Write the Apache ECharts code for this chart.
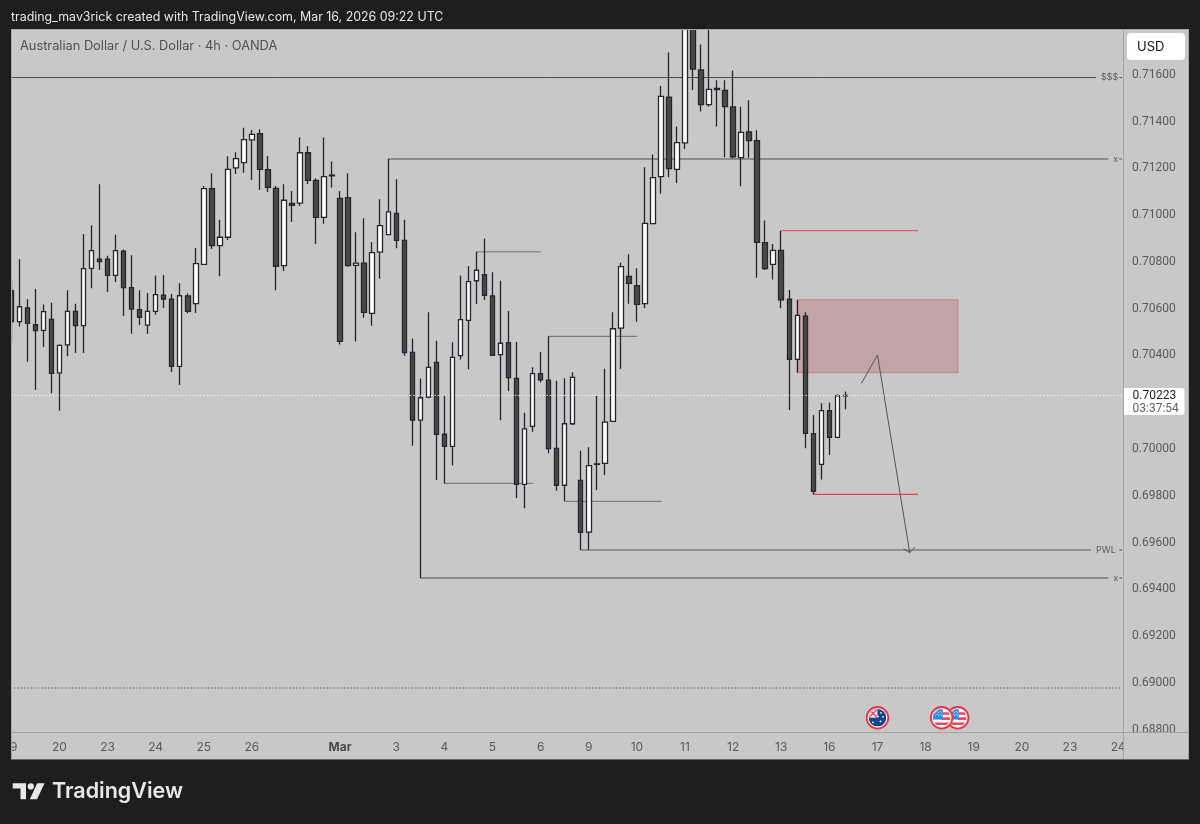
<!DOCTYPE html>
<html>
<head>
<meta charset="utf-8">
<style>
  html, body { margin: 0; padding: 0; background: #1e1e1e; }
  #chart { width: 1200px; height: 824px; }
</style>
<script src="https://cdn.jsdelivr.net/npm/echarts@6/dist/echarts.min.js"></script>
</head>
<body>
<div id="chart"></div>
<script>
// AUD/USD 4h candles, one entry per bar, oldest first
const opens = [
  0.70671,0.70538,0.70597,0.70525,0.70501,0.70548,0.70319,0.70439,0.70582,0.70521,
  0.70766,0.70805,0.70805,0.70736,0.70839,0.70684,0.70590,0.70523,0.70582,0.70651,
  0.70634,0.70347,0.70648,0.70615,0.70783,0.71107,0.70863,0.70899,0.71195,0.71218,
  0.71315,0.71342,0.71188,0.71108,0.70778,0.71044,0.71045,0.71260,0.71142,0.70984,
  0.71164,0.71065,0.71068,0.70779,0.70788,0.70574,0.70835,0.70910,0.71001,0.70886,
  0.70407,0.70117,0.70216,0.70364,0.70057,0.70005,0.70393,0.70544,0.70713,0.70739,
  0.70648,0.70397,0.70449,0.70296,0.69843,0.70091,0.70316,0.70288,0.69997,0.69839,
  0.70102,0.69860,0.69639,0.69930,0.69933,0.70112,0.70511,0.70732,0.70692,0.70615,
  0.70957,0.71158,0.71498,0.71189,0.71302,0.71840,0.71614,0.71466,0.71535,0.71527,
  0.71456,0.71239,0.71349,0.71312,0.70876,0.70783,0.70843,0.70634,0.70377,0.70562,
  0.70060,0.69928,0.70158,0.70044,0.70221
];
const closes = [
  0.70538,0.70602,0.70531,0.70500,0.70581,0.70317,0.70437,0.70582,0.70521,0.70765,
  0.70842,0.70795,0.70736,0.70842,0.70684,0.70592,0.70557,0.70582,0.70654,0.70635,
  0.70347,0.70649,0.70582,0.70786,0.71107,0.70863,0.70899,0.71189,0.71235,0.71316,
  0.71339,0.71189,0.71112,0.70775,0.71057,0.71035,0.71260,0.71142,0.70984,0.71158,
  0.71161,0.70454,0.70778,0.70788,0.70578,0.70833,0.70949,0.71007,0.70886,0.70406,
  0.70117,0.70213,0.70343,0.70057,0.70005,0.70386,0.70547,0.70709,0.70758,0.70651,
  0.70394,0.70446,0.70299,0.69843,0.70080,0.70316,0.70290,0.69996,0.69839,0.70102,
  0.70300,0.69638,0.69923,0.69928,0.70109,0.70508,0.70773,0.70702,0.70612,0.70958,
  0.71154,0.71501,0.71192,0.71303,0.71850,0.71617,0.71466,0.71531,0.71530,0.71457,
  0.71242,0.71347,0.71312,0.70877,0.70765,0.70843,0.70631,0.70377,0.70565,0.70061,
  0.69813,0.70158,0.70044,0.70221,0.70223
];
const lows = [
  0.70457,0.70517,0.70367,0.70246,0.70430,0.70232,0.70158,0.70390,0.70404,0.70404,
  0.70681,0.70759,0.70665,0.70708,0.70562,0.70487,0.70524,0.70486,0.70568,0.70597,
  0.70323,0.70268,0.70574,0.70575,0.70783,0.70849,0.70732,0.70887,0.71169,0.71175,
  0.71144,0.71101,0.71092,0.70672,0.70755,0.70964,0.71033,0.71127,0.70870,0.70957,
  0.71112,0.70441,0.70773,0.70453,0.70555,0.70521,0.70722,0.70910,0.70852,0.70393,
  0.70008,0.69443,0.70211,0.69862,0.69847,0.69924,0.70376,0.70335,0.70614,0.70631,
  0.70392,0.70117,0.70242,0.69785,0.69741,0.70068,0.70278,0.69976,0.69816,0.69771,
  0.70097,0.69562,0.69562,0.69819,0.69883,0.70112,0.70336,0.70615,0.70538,0.70595,
  0.70954,0.71085,0.71155,0.71131,0.71276,0.71528,0.71436,0.71457,0.71372,0.71241,
  0.71236,0.71117,0.71239,0.70726,0.70759,0.70718,0.70595,0.70161,0.70320,0.69997,
  0.69800,0.69864,0.69968,0.70044,0.70164
];
const highs = [
  0.70716,0.70805,0.70634,0.70678,0.70612,0.70619,0.70441,0.70672,0.70615,0.70913,
  0.70950,0.71125,0.70820,0.70910,0.70847,0.70822,0.70672,0.70661,0.70736,0.70738,
  0.70656,0.70702,0.70659,0.70853,0.71118,0.71172,0.70974,0.71245,0.71262,0.71367,
  0.71357,0.71360,0.71246,0.71118,0.71125,0.71097,0.71326,0.71289,0.71151,0.71325,
  0.71223,0.71097,0.71172,0.70920,0.70980,0.70879,0.71061,0.71233,0.71147,0.70974,
  0.70466,0.70295,0.70578,0.70457,0.70222,0.70450,0.70736,0.70776,0.70837,0.70894,
  0.70749,0.70713,0.70584,0.70451,0.70149,0.70343,0.70409,0.70476,0.70286,0.70296,
  0.70322,0.69986,0.70001,0.70222,0.70337,0.70578,0.70790,0.70826,0.70766,0.71198,
  0.71253,0.71545,0.71688,0.71372,0.71900,0.71900,0.71723,0.71850,0.71570,0.71570,
  0.71612,0.71457,0.71484,0.71356,0.70971,0.70870,0.70927,0.70674,0.70631,0.70578,
  0.70139,0.70189,0.70193,0.70228,0.70240
];

// Time-scale labels and the bar slot each one sits on
const dayLabels = ['19','20','23','24','25','26','Mar','3','4','5','6','9','10','11','12','13','16','17','18','19','20','23','24'];
const dayLabelSlots = [0,6,12,18,24,30,41,48,54,60,66,72,78,84,90,96,102,108,114,120,126,132,138];
const slotCount = 139;
const priceTicks = [0.688,0.690,0.692,0.694,0.696,0.698,0.700,0.704,0.706,0.708,0.710,0.712,0.714,0.716];
const priceMin = 0.687846;
const priceMax = 0.717889;

const lastPrice = 0.70223;
const countdown = '03:37:54';
const lowerDotted = 0.689726;

// Drawn levels as [bar position, price] paths
const levelDollar = [[-0.5,0.715816],[135.25,0.715816]];
const levelUpperX = [[47,0.712333],[136.78,0.712333]];
const levelLowerX = [[51,0.694427],[136.78,0.694427]];
const levelPWL = [[71,0.695624],[134.63,0.695624]];
const redHigh = [[96,0.709269],[113.05,0.709269]];
const redLow = [[100,0.698004],[113.05,0.698004]];
const swingGrey = [[58,0.708372],[66.05,0.708372]];
const swingMid = [[67,0.704756],[78.05,0.704756]];
const swingLow1 = [[54,0.698474],[65.05,0.698474]];
const swingLow2 = [[69,0.697705],[81.1,0.697705]];
const arrowPath = [[106,0.702748],[108,0.703957],[112.02,0.695509]];
const arrowHead = [[111.22,0.695679],[112.02,0.695509],[112.64,0.695739]];
const zoneBox = [[97.97,0.706321],[118.04,0.703201]];

// Economic calendar pins
const eventBars = [108,118,116];
const eventCountries = ['AU','US','US'];
const eventPrice = 0.688453;

const categories = new Array(slotCount).fill('');
dayLabelSlots.forEach((slot, i) => { categories[slot] = dayLabels[i]; });

const INK = '#23262b';
const TEXT = '#5a5a5a';
const PANEL = '#c8c8c8';
const FRAME = '#1e1e1e';
const FONT = 'Inter, Roboto, "Liberation Sans", sans-serif';

function pathLine(points, color, width, extra) {
  return Object.assign({
    type: 'line', xAxisIndex: 1, yAxisIndex: 0, data: points, symbol: 'none', showSymbol: false,
    silent: true, animation: false, z: 2,
    lineStyle: { color: color, width: width, cap: 'butt', join: 'miter' }
  }, extra || {});
}
function endText(text) {
  return { endLabel: { show: true, formatter: text, color: '#5c5c5c', fontSize: 9, distance: 5, fontFamily: FONT } };
}
function tickDash(price) {
  return pathLine([[138.15, price],[138.5, price]], '#5c5c5c', 1);
}

function flagGroup(pt, country) {
  const cx = pt[0], cy = pt[1], r = 8.8;
  const clip = { type: 'circle', shape: { cx: 0, cy: 0, r: r } };
  const kids = [
    { type: 'circle', shape: { cx: 0, cy: 0, r: 10.8 }, style: { fill: '#f2f2f2', stroke: '#ee3045', lineWidth: 1.8 } }
  ];
  const inner = [];
  if (country === 'AU') {
    inner.push({ type: 'rect', shape: { x: -r, y: -r, width: 2 * r, height: 2 * r }, style: { fill: '#15458f' } });
    inner.push({ type: 'rect', shape: { x: -r, y: -r, width: r, height: r }, style: { fill: '#e9e4ea' } });
    inner.push({ type: 'line', shape: { x1: -r, y1: -r, x2: 0, y2: 0 }, style: { stroke: '#d9566d', lineWidth: 1.6 } });
    inner.push({ type: 'line', shape: { x1: 0, y1: -r, x2: -r, y2: 0 }, style: { stroke: '#d9566d', lineWidth: 1.2 } });
    [[-4.5,4.5],[3.5,-5],[5.5,-1],[3,3.5],[0.5,-1.5]].forEach(s => {
      inner.push({ type: 'circle', shape: { cx: s[0], cy: s[1], r: 0.9 }, style: { fill: '#ffffff' } });
    });
  } else {
    inner.push({ type: 'rect', shape: { x: -r, y: -r, width: 2 * r, height: 2 * r }, style: { fill: '#f6f6f6' } });
    inner.push({ type: 'rect', shape: { x: 0, y: -5.6, width: r, height: 2.6 }, style: { fill: '#ea4c5c' } });
    inner.push({ type: 'rect', shape: { x: 0, y: -0.6, width: r, height: 2.8 }, style: { fill: '#ea4c5c' } });
    inner.push({ type: 'rect', shape: { x: -r, y: 4.6, width: 2 * r, height: 2.6 }, style: { fill: '#ea4c5c' } });
    inner.push({ type: 'rect', shape: { x: -r, y: -r, width: r + 1, height: r + 1.6 }, style: { fill: '#2f86dc' } });
    [[-6,-5],[-3,-5],[0,-5],[-6,-2],[-3,-2],[0,-2],[-4.5,-3.5],[-1.5,-3.5],[-4.5,-6.5],[-1.5,-6.5]].forEach(s => {
      inner.push({ type: 'circle', shape: { cx: s[0], cy: s[1], r: 0.55 }, style: { fill: '#ffffff' } });
    });
  }
  kids.push({ type: 'group', clipPath: clip, children: inner });
  return { type: 'group', x: cx, y: cy, children: kids };
}

const chart = echarts.init(document.getElementById('chart'), null, { renderer: 'canvas' });
chart.setOption({
  animation: false,
  backgroundColor: PANEL,
  textStyle: { fontFamily: FONT },
  grid: { left: 7.3, top: 29, width: 1114.8, height: 703, containLabel: false },
  xAxis: [
    {
      type: 'category', data: categories, boundaryGap: true, gridIndex: 0,
      axisLine: { show: false }, axisTick: { show: false }, splitLine: { show: false },
      axisLabel: {
        show: true, interval: 0, margin: 9, color: TEXT, fontSize: 12, fontFamily: FONT,
        hideOverlap: false,
        formatter: v => v === 'Mar' ? '{b|Mar}' : v,
        rich: { b: { fontWeight: 700, color: '#4a4a4a', fontSize: 12, fontFamily: FONT } }
      }
    },
    { type: 'value', show: false, min: -0.5, max: 138.5, gridIndex: 0, splitLine: { show: false } }
  ],
  yAxis: [{
    type: 'value', position: 'right', min: priceMin, max: priceMax, scale: true, offset: 1,
    axisLine: { show: false }, axisTick: { show: false }, splitLine: { show: false },
    axisLabel: {
      show: true, margin: 9, color: TEXT, fontSize: 12, fontFamily: 'Roboto, sans-serif',
      customValues: priceTicks,
      formatter: v => '{p|' + v.toFixed(5) + '}',
      rich: { p: { color: TEXT, fontSize: 12, fontFamily: 'Roboto, sans-serif', padding: [3, 0, 0, 0] } }
    }
  }],
  series: [
    {
      type: 'custom', xAxisIndex: 1, yAxisIndex: 0, silent: true, z: 1, clip: true,
      data: [[zoneBox[0][0], zoneBox[0][1], zoneBox[1][0], zoneBox[1][1]]],
      renderItem(params, api) {
        const a = api.coord([api.value(0), api.value(1)]);
        const b = api.coord([api.value(2), api.value(3)]);
        return {
          type: 'rect',
          shape: { x: a[0], y: a[1], width: b[0] - a[0], height: b[1] - a[1] },
          style: { fill: 'rgba(180,83,90,0.3)', stroke: 'rgba(200,80,85,0.5)', lineWidth: 1 }
        };
      }
    },
    pathLine(levelDollar, '#4f4f4f', 1, endText('$$$')),
    pathLine(levelUpperX, '#4f4f4f', 1, endText('x')),
    pathLine(levelLowerX, '#4f4f4f', 1, endText('x')),
    pathLine(levelPWL, '#5a5a5a', 1.2, endText('PWL')),
    tickDash(levelDollar[0][1]), tickDash(levelUpperX[0][1]), tickDash(levelLowerX[0][1]), tickDash(levelPWL[0][1]),
    pathLine(swingGrey, '#8c8c8c', 1.5),
    pathLine(swingMid, '#666666', 1),
    pathLine(swingLow1, '#6e6e6e', 1),
    pathLine(swingLow2, '#6e6e6e', 1),
    pathLine(redHigh, '#ec5468', 1.3),
    pathLine(redLow, '#ee3d50', 1.3),
    {
      type: 'candlestick', xAxisIndex: 0, yAxisIndex: 0, silent: true, z: 3, barWidth: 5, clip: true,
      data: opens.map((o, i) => [o, closes[i], lows[i], highs[i]]),
      itemStyle: { color: '#ffffff', color0: '#4a4a4a', borderColor: INK, borderColor0: INK, borderWidth: 1.3 }
    },
    pathLine(arrowPath, '#555555', 1, { z: 4 }),
    pathLine(arrowHead, '#555555', 1, { z: 4 }),
    pathLine([[-0.5, lastPrice],[138.5, lastPrice]], '#f4f4f4', 1, { z: 5, lineStyle: { color: '#f4f4f4', width: 1, type: [1.5, 2] } }),
    pathLine([[-0.5, lowerDotted],[138.5, lowerDotted]], '#4a4a4a', 1, { lineStyle: { color: '#4a4a4a', width: 1, type: [1.2, 2.2] } }),
    {
      type: 'custom', xAxisIndex: 1, yAxisIndex: 0, silent: true, z: 6, clip: false,
      data: eventBars.map(b => [b, eventPrice]),
      renderItem(params, api) {
        return flagGroup(api.coord([api.value(0), api.value(1)]), eventCountries[params.dataIndex]);
      }
    }
  ],
  graphic: [
    // Dark frame around the chart panel
    { type: 'rect', z: 100, shape: { x: 0, y: 0, width: 1200, height: 29 }, style: { fill: FRAME }, silent: true },
    { type: 'rect', z: 100, shape: { x: 0, y: 759.5, width: 1200, height: 65 }, style: { fill: FRAME }, silent: true },
    { type: 'rect', z: 100, shape: { x: 0, y: 0, width: 11, height: 824 }, style: { fill: FRAME }, silent: true },
    { type: 'rect', z: 100, shape: { x: 1189, y: 0, width: 11, height: 824 }, style: { fill: FRAME }, silent: true },
    // Corner cell where the two scales meet
    { type: 'rect', z: 99, shape: { x: 1123, y: 732.5, width: 66, height: 27 }, style: { fill: PANEL }, silent: true },
    { type: 'rect', z: 99, shape: { x: 11.5, y: 29.5, width: 1177, height: 730 }, style: { fill: 'none', stroke: '#a8a8a8', lineWidth: 1 }, silent: true },
    { type: 'line', z: 99, shape: { x1: 11, y1: 732.5, x2: 1189, y2: 732.5 }, style: { stroke: '#a3a3a3', lineWidth: 1 }, silent: true },
    { type: 'line', z: 99, shape: { x1: 1123.5, y1: 29, x2: 1123.5, y2: 759 }, style: { stroke: '#a3a3a3', lineWidth: 1 }, silent: true },

    // Header and title
    { type: 'text', z: 101, x: 11, y: 17, style: { text: 'trading_mav3rick created with TradingView.com, Mar 16, 2026 09:22 UTC', fill: '#e6e6e6', font: '12.4px ' + FONT, textVerticalAlign: 'middle' }, silent: true },
    { type: 'text', z: 101, x: 20, y: 46, style: { text: 'Australian Dollar / U.S. Dollar · 4h · OANDA', fill: '#505050', font: '12.8px ' + FONT, textVerticalAlign: 'middle' }, silent: true },

    // Currency button
    { type: 'rect', z: 101, shape: { x: 1127, y: 33, width: 58, height: 27, r: 4 }, style: { fill: '#ffffff' }, silent: true },
    { type: 'text', z: 102, x: 1137, y: 47, style: { text: 'USD', fill: '#111111', font: '13px ' + FONT, textVerticalAlign: 'middle' }, silent: true },

    // Last price tag
    { type: 'rect', z: 101, shape: { x: 1124, y: 388, width: 60.5, height: 27, r: [0, 3, 3, 0] }, style: { fill: '#ffffff' }, silent: true },
    { type: 'text', z: 102, x: 1132.5, y: 395.5, style: { text: lastPrice.toFixed(5), fill: '#1c1c1c', font: '12px Roboto, sans-serif', textVerticalAlign: 'middle' }, silent: true },
    { type: 'text', z: 102, x: 1132.5, y: 408.5, style: { text: countdown, fill: '#5f5f5f', font: '12px Roboto, sans-serif', textVerticalAlign: 'middle' }, silent: true },

    // Footer brand mark and wordmark
    { type: 'polygon', z: 101, shape: { points: [[12.7,783.3],[26,783.3],[26,799.3],[20.5,799.3],[20.5,788.6],[12.7,788.6]] }, style: { fill: '#e8e8e8' }, silent: true },
    { type: 'circle', z: 101, shape: { cx: 30.8, cy: 786.4, r: 3.1 }, style: { fill: '#e8e8e8' }, silent: true },
    { type: 'polygon', z: 101, shape: { points: [[37.2,783.3],[44.6,783.3],[37,799.3],[29.8,799.3]] }, style: { fill: '#e8e8e8' }, silent: true },
    { type: 'text', z: 101, x: 52, y: 792, style: { text: 'TradingView', fill: '#e8e8e8', font: '600 21.5px ' + FONT, textVerticalAlign: 'middle' }, silent: true }
  ]
});
</script>
</body>
</html>
